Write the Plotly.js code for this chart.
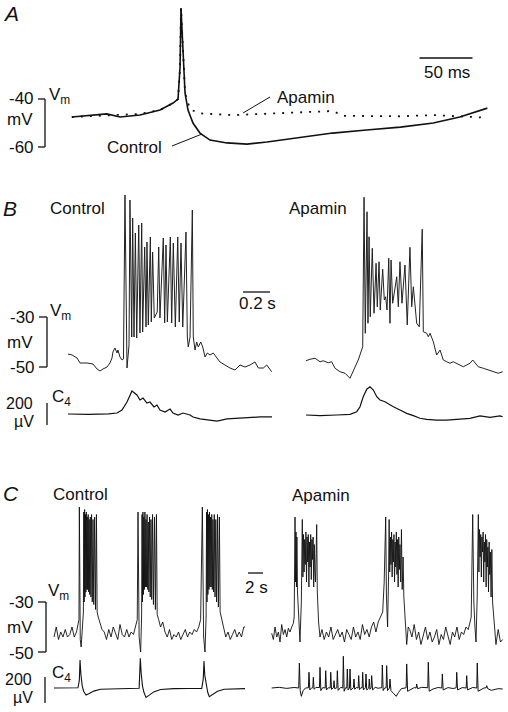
<!DOCTYPE html>
<html>
<head>
<meta charset="utf-8">
<script src="https://cdn.plot.ly/plotly-3.0.1.min.js"></script>
<style>html,body{margin:0;padding:0;background:#fff}</style>
</head>
<body>
<div id="fig" style="width:508px;height:712px"></div>
<script>
// ---- Panel A: single spike, time in ms, Vm in mV ----
const tA_ctrl = [-103, -70, -57.5, -38.7, -19.8, -7.5, -2.8, -0.9, 0, 1.9, 3.8, 6.6, 11.3, 17.9, 27.4, 43.4, 62.3, 81.1, 112, 143, 175, 207, 238, 263, 289];
const vA_ctrl = [-47.5, -46.2, -47.5, -46.7, -44.6, -41.7, -40, -26.7, -2.1, -19.6, -37.5, -44.6, -50, -54.2, -57.1, -58.3, -58.8, -57.9, -56.2, -54.2, -52.9, -51.7, -50, -47.5, -43.8];
const tA_apa = [-103, -70, -38.7, -19.8, -7.5, -2.8, -0.9, 0, 1.9, 3.8, 8.5, 17.9, 49.1, 103.8, 143.4, 152.8, 207, 238, 289];
const vA_apa = [-47.5, -46.7, -46.2, -44.6, -41.7, -40, -26.7, -2.1, -19.6, -37.5, -44.3, -46, -46.7, -45.8, -45, -47, -47.2, -46.7, -47.8];

// ---- Panel B: burst, time in s, Vm in mV, C4 in uV ----
const tB_ctrl = [0, 0.030, 0.067, 0.089, 0.141, 0.185, 0.215, 0.237, 0.259, 0.289,
  0.311, 0.326, 0.333, 0.348, 0.363, 0.370, 0.385, 0.400, 0.411, 0.422,
  0.437, 0.452, 0.459, 0.472, 0.479, 0.489, 0.499, 0.509, 0.524, 0.533,
  0.546, 0.553, 0.568, 0.578, 0.585, 0.595, 0.610, 0.617, 0.627, 0.639,
  0.650, 0.661, 0.672, 0.681, 0.706, 0.716, 0.726, 0.736, 0.758, 0.768,
  0.780, 0.795, 0.813, 0.824, 0.837, 0.850, 0.874, 0.884, 0.891, 0.904,
  0.921, 0.928, 0.941, 0.953, 0.965, 0.983, 0.998, 1.015, 1.032, 1.052,
  1.076, 1.101, 1.126, 1.163, 1.200, 1.237, 1.274, 1.311, 1.348, 1.385,
  1.410, 1.447, 1.472, 1.509];
const vB_ctrl = [-44.8, -45.2, -46.4, -48.4, -48.4, -48.8, -50.8, -51.6, -50.8, -50,
  -48.4, -46.4, -44, -42.4, -44.4, -43.2, -46, -47.2, -46.8, 18.8,
  -50.4, -41.2, 16.8, -38, 9.6, -38, 3.6, -38.4, 6.8, -36.4,
  7.6, -36, -2, -34, 0, -33.2, 2, -32, -4, -30.4,
  -29.2, -28, -2, -30.4, 1.6, -32.4, -1.2, -32, 2, -32.4,
  -0.4, -34, 2, -32, -0.4, -34, 4, -38, -42, -38,
  12.8, -38, -43.2, -40, -42, -40, -42, -46, -44.4, -45.2,
  -44.4, -46, -48, -49.2, -50.4, -51.2, -49.2, -50, -49.2, -48,
  -50.4, -50.4, -49.2, -51.9];
const tB_apa = [0, 0.030, 0.067, 0.104, 0.128, 0.165, 0.190, 0.215, 0.252, 0.289,
  0.326, 0.350, 0.370, 0.387, 0.400, 0.413, 0.420, 0.430, 0.439, 0.452,
  0.459, 0.467, 0.476, 0.491, 0.504, 0.519, 0.528, 0.541, 0.550, 0.568,
  0.580, 0.590, 0.600, 0.613, 0.622, 0.630, 0.642, 0.672, 0.684, 0.696,
  0.711, 0.733, 0.750, 0.770, 0.783, 0.795, 0.820, 0.839, 0.861, 0.869,
  0.894, 0.906, 0.919, 0.943, 0.968, 0.993, 1.017, 1.042, 1.067, 1.091,
  1.116, 1.141, 1.165, 1.190, 1.215, 1.235, 1.252, 1.276, 1.313, 1.350,
  1.387, 1.424, 1.457];
const vB_apa = [-47.5, -46.9, -46.5, -47.9, -47.5, -48.3, -47.9, -50.5, -51.9, -52.5,
  -54.5, -51.9, -49.2, -47.2, -45.2, -43.2, -41.9, 17.9, -36.5, 12.1,
  -32.5, 2.1, -29.9, -2.5, -28.5, -8.5, -25.9, -7.9, -27.2, -10.9,
  -23.2, -21.9, -27.2, -6.5, -32.5, -7.2, -24.5, -13.9, -25.9, -7.9,
  -24.5, -9.2, -33.2, -2.1, -25.9, -17.9, -32.5, -33.9, 5.1, -35.9,
  -36.5, -37.9, -36.5, -39.9, -45.2, -43.2, -47.2, -47.9, -48.5, -47.9,
  -48.5, -49.2, -49.9, -49.2, -48.5, -47.2, -48.5, -49.9, -50.5, -51.2,
  -51.9, -52.5, -51.9];
const tB_c4ctrl = [0, 0.15, 0.30, 0.363, 0.400, 0.437, 0.474, 0.511, 0.533, 0.556, 0.585, 0.607, 0.637, 0.659, 0.681,
  0.719, 0.756, 0.778, 0.815, 0.852, 0.904, 0.926, 0.978, 1.030, 1.104, 1.178, 1.274, 1.370, 1.422, 1.511];
const uB_c4ctrl = [0, -3, 2, 9, 36, 109, 209, 173, 127, 145, 100, 109, 64, 82, 36,
  18, 45, 9, -9, 9, -9, -27, -45, -55, -64, -45, -36, -27, -27, -27];
const tB_c4apa = [0, 0.104, 0.227, 0.326, 0.376, 0.400, 0.424, 0.450, 0.474, 0.499, 0.524, 0.548, 0.585, 0.622,
  0.647, 0.696, 0.746, 0.795, 0.844, 0.894, 0.968, 1.042, 1.141, 1.215, 1.289, 1.363, 1.437, 1.457];
const uB_c4apa = [-9, -15, -9, -3, 21, 66, 157, 225, 248, 218, 157, 127, 112, 82,
  66, 36, 6, -15, -39, -48, -55, -55, -48, -39, -18, -30, -18, -25];

// ---- Panel C: rhythmic bursts, time in s ----
const tC_ctrl = [0, 0.3, 0.6, 0.9, 1.2, 1.5, 1.8, 2.1, 2.4, 2.7, 3.0, 3.2,
  3.33, 3.38, 3.50, 3.62, 3.80, 3.92, 3.97, 4.03, 4.08, 4.13, 4.19, 4.25, 4.31, 4.37, 4.43, 4.49, 4.56, 4.62, 4.69, 4.76, 4.84, 4.92, 5.01, 5.10, 5.20, 5.30, 5.42, 5.54, 5.66, 5.75, 5.90, 6.1, 6.4,
  6.7, 7.0, 7.3, 7.6, 7.9, 8.2, 8.5, 8.8, 9.1, 9.4, 9.7, 10.0, 10.3, 10.6, 10.9,
  11.1, 11.2, 11.35, 11.55, 11.68, 11.74, 11.80, 11.86, 11.92, 11.98, 12.05, 12.12, 12.19, 12.26, 12.33, 12.41, 12.49, 12.57, 12.65, 12.74, 12.83, 12.93, 13.03, 13.14, 13.26, 13.40, 13.52, 13.66, 13.76, 13.95, 14.2,
  14.5, 14.8, 15.1, 15.4, 15.7, 16.0, 16.3, 16.6, 16.9, 17.2, 17.5, 17.8, 18.1, 18.4, 18.7, 19.0, 19.3, 19.55,
  19.78, 19.95, 20.13, 20.28, 20.34, 20.40, 20.46, 20.52, 20.59, 20.66, 20.73, 20.80, 20.87, 20.95, 21.03, 21.11, 21.19, 21.28, 21.37, 21.47, 21.57, 21.68, 21.80, 21.92, 22.05, 22.15, 22.35, 22.6,
  22.9, 23.2, 23.5, 23.8, 24.1, 24.4, 24.7, 25.0, 25.3, 25.47];
const vC_ctrl = [-44, -40, -45, -42, -44, -41, -44, -43, -40, -44, -42, -39,
  -37, 8, -45, -48, -38, -34, 6, -30, 7, -28, 5, -26, 6, -25, 4, -25, 5, -26, 3, -27, 4, -28, 5, -30, 3, -31, 4, -33, 5, -34, -36, -38, -41,
  -42, -45, -41, -44, -40, -43, -45, -39, -43, -44, -41, -44, -42, -43, -40,
  -37, 6, -44, -50, -36, 5, -30, 6, -27, 4, -25, 6, -24, 3, -24, 5, -25, 2, -26, 4, -28, 3, -29, 5, -31, 4, -33, 5, -35, -37, -40,
  -38, -42, -44, -41, -45, -43, -44, -42, -45, -43, -41, -44, -42, -43, -41, -42, -40, -37,
  8, -44, -50, -36, 6, -30, 7, -27, 5, -25, 6, -24, 4, -24, 5, -25, 3, -26, 5, -28, 3, -30, 5, -32, 4, -34, -37, -41,
  -44, -42, -45, -43, -41, -44, -42, -44, -40, -40];
const tC_apa = [0, 0.22, 0.44, 0.67, 0.89, 1.11, 1.33, 1.56, 1.78, 2.0, 2.22, 2.44, 2.67, 2.89,
  3.00, 3.11, 3.18, 3.24, 3.30, 3.36, 3.44, 3.55, 3.77, 3.95, 4.08, 4.16, 4.24, 4.32, 4.40, 4.48, 4.56, 4.64, 4.72, 4.80, 4.88, 4.96, 5.04, 5.12, 5.20, 5.28, 5.36, 5.44, 5.52, 5.60, 5.68, 5.76, 5.84, 5.93, 6.00, 6.08, 6.25, 6.44,
  6.7, 7.0, 7.3, 7.6, 7.9, 8.2, 8.5, 8.8, 9.1, 9.4, 9.7, 10.0, 10.3, 10.6, 10.9, 11.2, 11.5, 11.8, 12.1, 12.4, 12.7, 13.0, 13.3, 13.6, 13.9, 14.2, 14.5,
  14.8, 15.0, 15.2, 15.30, 15.45, 15.58, 15.66, 15.74, 15.82, 15.90, 15.98, 16.06, 16.14, 16.22, 16.30, 16.38, 16.46, 16.54, 16.62, 16.70, 16.78, 16.86, 16.94, 17.02, 17.10, 17.20, 17.30, 17.40, 17.52, 17.62, 17.80, 18.0,
  18.2, 18.4, 18.7, 19.0, 19.3, 19.6, 19.9, 20.2, 20.5, 20.8, 21.1, 21.4, 21.7, 22.0, 22.3, 22.6, 22.9, 23.2, 23.5, 23.8, 24.1, 24.4, 24.7, 25.0, 25.3, 25.6, 25.9, 26.2, 26.45,
  26.6, 26.8, 26.95, 27.1, 27.24, 27.4, 27.55, 27.63, 27.71, 27.79, 27.87, 27.95, 28.03, 28.11, 28.19, 28.27, 28.35, 28.43, 28.51, 28.59, 28.67, 28.75, 28.83, 28.91, 28.99, 29.07, 29.15, 29.25, 29.35, 29.45, 29.6, 29.75, 29.9,
  30.2, 30.5, 30.8];
const vC_apa = [-42.5, -45, -40, -44, -42, -46, -39, -43, -41, -44, -40.5, -42, -40, -38.5,
  -36, 4, -22, -2, -24, -4, -26, -35, -46, -30, 3, -20, -3, -18, -5, -15, -2, -22, -4, -14, -3, -24, -6, -16, -3, -21, -5, -13, -4, -24, -7, -18, -22, -10, 1, -26, -38, -44,
  -41, -45, -42, -44, -40, -45, -43, -41, -44, -42, -46, -41, -43, -45, -40, -44, -42, -45, -39, -43, -41, -44, -40, -38, -42, -38, -36,
  -34, -22, 4, -28, -40, -20, 3, -18, -4, -15, -2, -20, -5, -14, -3, -22, -6, -16, -2, -19, -5, -24, -4, -17, -7, -22, -1, -25, -12, -28, -40, -47,
  -40, -41, -44, -39, -45, -42, -47, -43, -40, -45, -42, -46, -44, -41, -47, -43, -45, -40, -44, -47, -42, -44, -40, -45, -42, -43, -40, -41, -38,
  -36, 5, -30, -40, -46, -28, 5, -18, -1, -12, -3, -20, -4, -10, -2, -22, -6, -14, -3, -24, -5, -16, -8, -26, -6, -19, -10, -28, -9, -30, -36, -42, -47,
  -41, -46, -45];
const tC_c4ctrl = [0, 1.5, 3.2, 3.38, 3.47, 3.58, 3.75, 3.95, 4.27, 4.7, 5.3, 6.2, 8.0, 10.0,
  11.35, 11.43, 11.51, 11.62, 11.8, 12.0, 12.27, 12.7, 13.3, 14.2, 16.0, 18.0,
  19.7, 19.9, 20.0, 20.1, 20.3, 20.5, 20.71, 21.2, 21.8, 22.7, 24.0, 25.47];
const uC_c4ctrl = [0, 2, 2, 60, 215, 110, 20, -25, -54, -42, -24, -10, -5, -4,
  -2, 70, 228, 115, 15, -35, -72, -55, -30, -12, -5, -4,
  -3, 70, 208, 100, 10, -35, -67, -50, -25, -10, -5, -5];
const tC_c4apa = [0, 1.0, 2.0, 3.0, 3.6, 3.69, 3.8, 3.95, 4.2, 4.5, 4.9, 4.97, 5.08, 5.3, 5.48, 5.55, 5.65, 5.9, 6.37, 6.44,
  6.55, 6.8, 7.13, 7.2, 7.3, 7.55, 7.8, 7.87, 7.98, 8.24, 8.31, 8.4, 8.68, 8.75, 8.86, 9.2, 9.48, 9.55, 9.66, 9.85,
  10.01, 10.08, 10.18, 10.37, 10.44, 10.55, 10.9, 10.97, 11.07, 11.3, 11.53, 11.6, 11.7, 11.9, 12.06, 12.13, 12.23, 12.5, 12.57, 12.67,
  12.94, 13.01, 13.1, 13.26, 13.33, 13.45, 13.8, 14.2, 14.68, 14.75, 14.86, 15.05, 15.26, 15.33, 15.44, 15.7, 15.77, 15.9, 16.3, 16.6,
  16.9, 17.3, 17.93, 18.0, 18.12, 18.5, 19.0, 19.26, 19.33, 19.45, 20.0, 20.81, 20.88, 21.0, 21.5, 22.2, 22.68, 22.75, 22.86, 23.5,
  24.2, 24.6, 24.67, 24.78, 25.4, 25.93, 26.0, 26.1, 26.8, 27.34, 27.41, 27.52, 27.9, 28.3, 28.6, 28.67, 28.8, 29.3, 29.8, 30.3, 30.8];
const uC_c4apa = [0, 5, -3, 4, 0, 192, -20, -64, -20, 0, 2, 121, -15, 0, 2, 82, -10, 5, 3, 159,
  -20, 3, 0, 133, -15, 2, 0, 121, -10, 3, 56, -5, 2, 133, -18, 5, 0, 244, -25, 2,
  0, 146, -15, 0, 146, -15, 2, 69, -10, 4, 0, 95, -12, 3, 0, 121, -15, 2, 108, -15,
  0, 69, -10, 2, 95, -15, 5, -2, 3, 177, -20, 0, 2, 172, -20, 0, 69, -20, -45, -64,
  -35, -5, 2, 185, -25, -15, 3, 0, 31, -5, 5, 2, 198, -25, -8, 4, 0, 108, -15, 3,
  -4, 2, 121, -15, 3, 0, 95, -15, 4, 0, 192, -25, -10, 0, 2, 18, -5, -18, -10, -5, -8];

// ---- layout helpers ----
const W = 508, H = 712;
const FONT = "Liberation Sans, Arial, sans-serif";
const px = x => x / W;
const py = y => 1 - y / H;

// axis where value v0 sits at pixel p0 and k units per pixel
function xr(v0, p0, k) { return [v0 - p0 * k, v0 + (W - p0) * k]; }
function yr(v0, p0, k) { return [v0 - (H - p0) * k, v0 + p0 * k]; }
function ax(range, extra) {
  return Object.assign({range: range, autorange: false, visible: false, fixedrange: true}, extra || {});
}

const black = "#111";
function line(x, y, xa, ya, w, dash, col) {
  return {x: x, y: y, xaxis: xa, yaxis: ya, type: "scatter", mode: "lines",
    line: {color: col || black, width: w, dash: dash || "solid"}, hoverinfo: "skip"};
}

const data = [
  line(tA_ctrl, vA_ctrl, "x", "y", 1.6),
  line(tA_apa, vA_apa, "x", "y", 1.8, "2px,7px"),
  line(tB_ctrl, vB_ctrl, "x2", "y2", 1, null, "#222"),
  line(tB_apa, vB_apa, "x3", "y2", 1, null, "#222"),
  line(tB_c4ctrl, uB_c4ctrl, "x2", "y3", 1.2),
  line(tB_c4apa, uB_c4apa, "x3", "y3", 1.2),
  line(tC_ctrl, vC_ctrl, "x4", "y4", 0.9),
  line(tC_apa, vC_apa, "x5", "y4", 0.9),
  line(tC_c4ctrl, uC_c4ctrl, "x4", "y5", 1.1),
  line(tC_c4apa, uC_c4apa, "x5", "y5", 1)
];

function seg(x0, y0, x1, y1, xref, yref, w) {
  return {type: "line", x0: x0, y0: y0, x1: x1, y1: y1, xref: xref, yref: yref,
    line: {color: black, width: w || 1.3}};
}
const shapes = [
  // A: Vm bracket, time bar, leader lines
  seg(px(45), -60, px(45), -40, "paper", "y"),
  seg(px(38), -40, px(45), -40, "paper", "y"),
  seg(px(38), -60, px(45), -60, "paper", "y"),
  seg(225, py(58), 275, py(58), "x", "paper"),
  seg(px(243), py(113), px(270), py(97), "paper", "paper", 1),
  seg(px(172), py(146), px(202), py(134), "paper", "paper", 1),
  // B
  seg(px(47), -50, px(47), -30, "paper", "y2"),
  seg(px(39), -30, px(47), -30, "paper", "y2"),
  seg(px(39), -50, px(47), -50, "paper", "y2"),
  seg(px(47), -100, px(47), 100, "paper", "y3"),
  seg(1.296, py(292), 1.496, py(292), "x2", "paper"),
  // C
  seg(px(46), -50, px(46), -30, "paper", "y4"),
  seg(px(38), -30, px(46), -30, "paper", "y4"),
  seg(px(38), -50, px(46), -50, "paper", "y4"),
  seg(px(45), -115, px(45), 85, "paper", "y5"),
  seg(25.87, py(573), 27.87, py(573), "x4", "paper")
];

function ann(text, x, y, xanchor, size, extra) {
  return Object.assign({text: text, x: px(x), y: py(y), xref: "paper", yref: "paper",
    xanchor: xanchor, yanchor: "middle", showarrow: false, borderpad: 0,
    font: {family: FONT, size: size || 17, color: black}}, extra || {});
}
const italic = t => "<i>" + t + "</i>";
const annotations = [
  ann(italic("A"), 2, 14, "left", 21),
  ann("50 ms", 447, 72, "center"),
  ann("Apamin", 276, 97, "left"),
  ann("Control", 106, 147, "left"),
  ann("V<sub>m</sub>", 48, 96, "left"),
  ann("-40", 35, 99, "right"),
  ann("mV", 20, 119, "center"),
  ann("-60", 35, 148, "right"),

  ann(italic("B"), 2, 208, "left", 21),
  ann("Control", 49, 209, "left"),
  ann("Apamin", 288, 209, "left"),
  ann("0.2 s", 257, 304, "center"),
  ann("V<sub>m</sub>", 49, 312, "left"),
  ann("-30", 36, 318, "right"),
  ann("mV", 20, 342, "center"),
  ann("-50", 36, 367, "right"),
  ann("C<sub>4</sub>", 51, 398, "left"),
  ann("200", 34, 403, "right", 16),
  ann("µV", 24, 421, "center", 16),

  ann(italic("C"), 2, 493, "left", 21),
  ann("Control", 52, 494, "left"),
  ann("Apamin", 291, 495, "left"),
  ann("2 s", 256, 587, "center"),
  ann("V<sub>m</sub>", 47, 592, "left"),
  ann("-30", 35, 602, "right"),
  ann("mV", 20, 627, "center"),
  ann("-50", 35, 653, "right"),
  ann("C<sub>4</sub>", 51, 674, "left"),
  ann("200", 33, 679, "right", 16),
  ann("µV", 23, 697, "center", 16)
];

const layout = {
  width: W, height: H,
  margin: {l: 0, r: 0, t: 0, b: 0, pad: 0},
  paper_bgcolor: "#fff", plot_bgcolor: "rgba(0,0,0,0)",
  showlegend: false,
  font: {family: FONT, color: black},
  xaxis:  ax(xr(0, 181, 1 / 1.06), {domain: [0, 1], anchor: "y"}),
  yaxis:  ax(yr(-40, 99, 1 / 2.4), {domain: [0, 1], anchor: "x"}),
  xaxis2: ax(xr(0, 68, 1 / 135), {overlaying: "x", anchor: "y"}),
  xaxis3: ax(xr(0, 306, 1 / 135), {overlaying: "x", anchor: "y"}),
  xaxis4: ax(xr(0, 54, 1 / 7.5), {overlaying: "x", anchor: "y"}),
  xaxis5: ax(xr(0, 271.7, 1 / 7.5), {overlaying: "x", anchor: "y"}),
  yaxis2: ax(yr(-30, 317, 1 / 2.5), {overlaying: "y", anchor: "x"}),
  yaxis3: ax(yr(0, 414, 200 / 22), {overlaying: "y", anchor: "x"}),
  yaxis4: ax(yr(-30, 602, 1 / 2.5), {overlaying: "y", anchor: "x"}),
  yaxis5: ax(yr(0, 688, 200 / 26), {overlaying: "y", anchor: "x"}),
  shapes: shapes,
  annotations: annotations
};

Plotly.newPlot("fig", data, layout, {staticPlot: true, displayModeBar: false});
</script>
</body>
</html>
